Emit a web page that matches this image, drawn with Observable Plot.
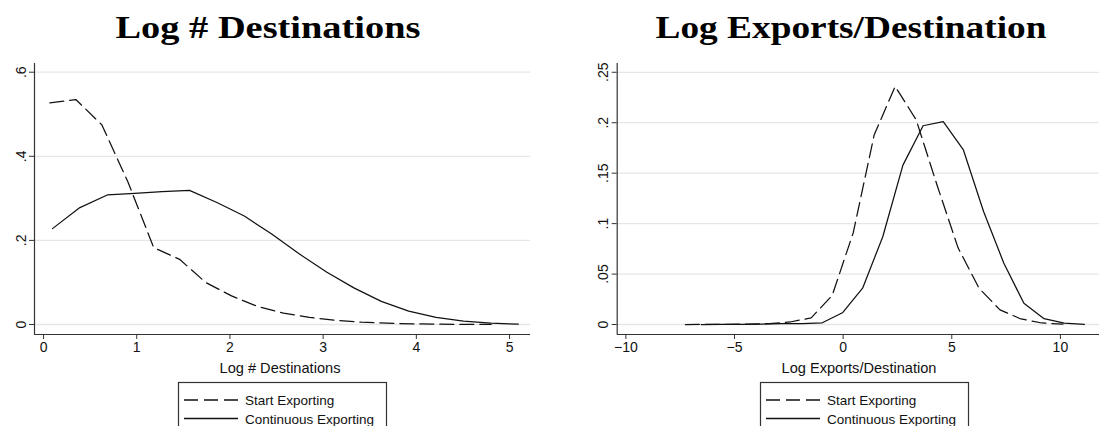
<!DOCTYPE html>
<html><head><meta charset="utf-8">
<script src="https://cdn.jsdelivr.net/npm/d3@7"></script>
<script src="https://cdn.jsdelivr.net/npm/@observablehq/plot@0.6"></script>
<style>
body{margin:0;background:#fff;}
#wrap{position:relative;width:1099px;height:426px;overflow:hidden;background:#fff;font-family:"Liberation Sans",Arial,sans-serif;}
.panel{position:absolute;top:0;}
.overlay{position:absolute;left:0;top:0;}
</style></head><body><div id="wrap"></div>
<script>
// ---------- data ----------
const seriesNames = ["Start Exporting", "Continuous Exporting"];

// Left panel: Log # Destinations
const destStartX = [0.068, 0.3465, 0.625, 0.9035, 1.182, 1.46, 1.739, 2.017, 2.296, 2.574, 2.853, 3.131, 3.41, 3.688, 3.967, 4.245, 4.524, 4.802];
const destStartY = [0.527, 0.535, 0.475, 0.34, 0.183, 0.155, 0.100, 0.068, 0.043, 0.027, 0.017, 0.010, 0.0055, 0.003, 0.0015, 0.0008, 0.0004, 0.0002];
const destContX  = [0.096, 0.39, 0.684, 0.978, 1.272, 1.566, 1.86, 2.154, 2.448, 2.742, 3.036, 3.33, 3.624, 3.918, 4.212, 4.506, 4.80, 5.094];
const destContY  = [0.228, 0.278, 0.308, 0.312, 0.316, 0.319, 0.290, 0.258, 0.215, 0.168, 0.125, 0.087, 0.055, 0.032, 0.017, 0.008, 0.003, 0.001];

// Right panel: Log Exports/Destination
const expStartX = [-7.26, -6.29, -5.33, -4.36, -3.40, -2.43, -1.47, -0.50, 0.465, 1.43, 2.395, 3.36, 4.325, 5.29, 6.255, 7.22, 8.185, 9.15, 10.115];
const expStartY = [0.0, 0.0001, 0.0002, 0.0004, 0.001, 0.0025, 0.0066, 0.029, 0.091, 0.188, 0.236, 0.203, 0.138, 0.076, 0.036, 0.0145, 0.0055, 0.0015, 0.0003];
const expContX  = [-6.528, -5.6, -4.672, -3.744, -2.816, -1.888, -0.96, -0.032, 0.896, 1.824, 2.752, 3.68, 4.608, 5.536, 6.464, 7.392, 8.32, 9.248, 10.176, 11.104];
const expContY  = [0.0, 0.0001, 0.0002, 0.0004, 0.0008, 0.001, 0.0017, 0.0116, 0.036, 0.087, 0.158, 0.197, 0.201, 0.173, 0.112, 0.061, 0.021, 0.0058, 0.0013, 0.0002];

// ticks
const destXTicks = [0, 1, 2, 3, 4, 5];
const destYTicks = [0, 0.2, 0.4, 0.6];
const destYLabels = ["0", ".2", ".4", ".6"];
const expXTicks = [-10, -5, 0, 5, 10];
const expXLabels = ["\u221210", "\u22125", "0", "5", "10"];
const expYTicks = [0, 0.05, 0.1, 0.15, 0.2, 0.25];
const expYLabels = ["0", ".05", ".1", ".15", ".2", ".25"];

const titles = ["Log # Destinations", "Log Exports/Destination"];
const axisTitles = ["Log # Destinations", "Log Exports/Destination"];

// ---------- helpers ----------
function rows(xs, ys, name) { return xs.map((x, i) => ({x, y: ys[i], series: name})); }

function panel({start, cont, xDomain, yDomain, xTicks, xLabels, yTicks, yLabels, marginLeft, marginRight}) {
  const [x0, x1] = xDomain, [y0, y1] = yDomain;
  return Plot.plot({
    width: 549, height: 360,
    marginLeft, marginRight, marginTop: 63, marginBottom: 26,
    style: {fontFamily: "'Liberation Sans', Arial, sans-serif", background: "transparent", overflow: "visible"},
    x: {domain: xDomain},
    y: {domain: yDomain},
    marks: [
      Plot.ruleY(yTicks, {x1: x0, x2: x1, stroke: "#e6e6e6", strokeWidth: 1.3}),
      Plot.line(start, {x: "x", y: "y", stroke: "#111", strokeWidth: 1.25, strokeDasharray: "14,6", clip: true}),
      Plot.line(cont, {x: "x", y: "y", stroke: "#111", strokeWidth: 1.25, clip: true}),
      Plot.ruleX([x0], {y1: y0, y2: y1, stroke: "#333", strokeWidth: 1.2}),
      Plot.ruleY([y0], {x1: x0, x2: x1, stroke: "#333", strokeWidth: 1.2}),
      Plot.axisX(xTicks, {tickSize: 5, tickPadding: 3, fontSize: 14, stroke: "#333", fill: "#111",
        tickFormat: (d) => xLabels[xTicks.indexOf(d)], label: null}),
      Plot.axisY(yTicks, {tickSize: 5, tickPadding: 4, fontSize: 14, stroke: "#333", fill: "#111", tickRotate: -90,
        tickFormat: (d) => yLabels[yTicks.indexOf(d)], label: null})
    ]
  });
}

const wrap = document.getElementById("wrap");

const left = panel({
  start: rows(destStartX, destStartY, seriesNames[0]),
  cont: rows(destContX, destContY, seriesNames[1]),
  xDomain: [-0.097, 5.225], yDomain: [-0.0238, 0.6207],
  xTicks: destXTicks, xLabels: destXTicks.map(String),
  yTicks: destYTicks, yLabels: destYLabels,
  marginLeft: 34, marginRight: 19
});
left.classList.add("panel"); left.style.left = "0px";
wrap.appendChild(left);

const right = panel({
  start: rows(expStartX, expStartY, seriesNames[0]),
  cont: rows(expContX, expContY, seriesNames[1]),
  xDomain: [-10.4, 11.8], yDomain: [-0.0099, 0.2587],
  xTicks: expXTicks, xLabels: expXLabels,
  yTicks: expYTicks, yLabels: expYLabels,
  marginLeft: 66.7, marginRight: 0
});
right.classList.add("panel"); right.style.left = "550px";
wrap.appendChild(right);

// ---------- overlay: titles, axis titles, legends ----------
const svg = d3.select(wrap).append("svg").attr("class", "overlay").attr("width", 1099).attr("height", 426);

const titleSpec = [{cx: 268, w: 305}, {cx: 851, w: 391}];
titleSpec.forEach((t, i) => {
  svg.append("text").attr("x", t.cx).attr("y", 37.5).attr("text-anchor", "middle")
    .attr("font-family", "'Liberation Serif', 'DejaVu Serif', serif").attr("font-weight", "bold")
    .attr("font-size", 31).attr("textLength", t.w).attr("lengthAdjust", "spacingAndGlyphs")
    .attr("fill", "#000").text(titles[i]);
});

const axisSpec = [{cx: 280}, {cx: 859}];
axisSpec.forEach((t, i) => {
  svg.append("text").attr("x", t.cx).attr("y", 373).attr("text-anchor", "middle")
    .attr("font-family", "'Liberation Sans', Arial, sans-serif").attr("font-size", 14.6)
    .attr("fill", "#111").text(axisTitles[i]);
});

const legendLefts = [178, 760];
legendLefts.forEach((lx) => {
  const g = svg.append("g").attr("transform", `translate(${lx},382)`);
  g.append("rect").attr("x", 0.5).attr("y", 0.5).attr("width", 208).attr("height", 70)
    .attr("fill", "none").attr("stroke", "#333").attr("stroke-width", 1.2);
  const rowsY = [18, 36.5];
  seriesNames.forEach((name, i) => {
    g.append("line").attr("x1", 6).attr("x2", 60).attr("y1", rowsY[i]).attr("y2", rowsY[i])
      .attr("stroke", "#111").attr("stroke-width", 1.3)
      .attr("stroke-dasharray", i === 0 ? "14,6" : null);
    g.append("text").attr("x", 67).attr("y", rowsY[i] + 5)
      .attr("font-family", "'Liberation Sans', Arial, sans-serif").attr("font-size", 13.5)
      .attr("fill", "#111").text(name);
  });
});
</script></body></html>
